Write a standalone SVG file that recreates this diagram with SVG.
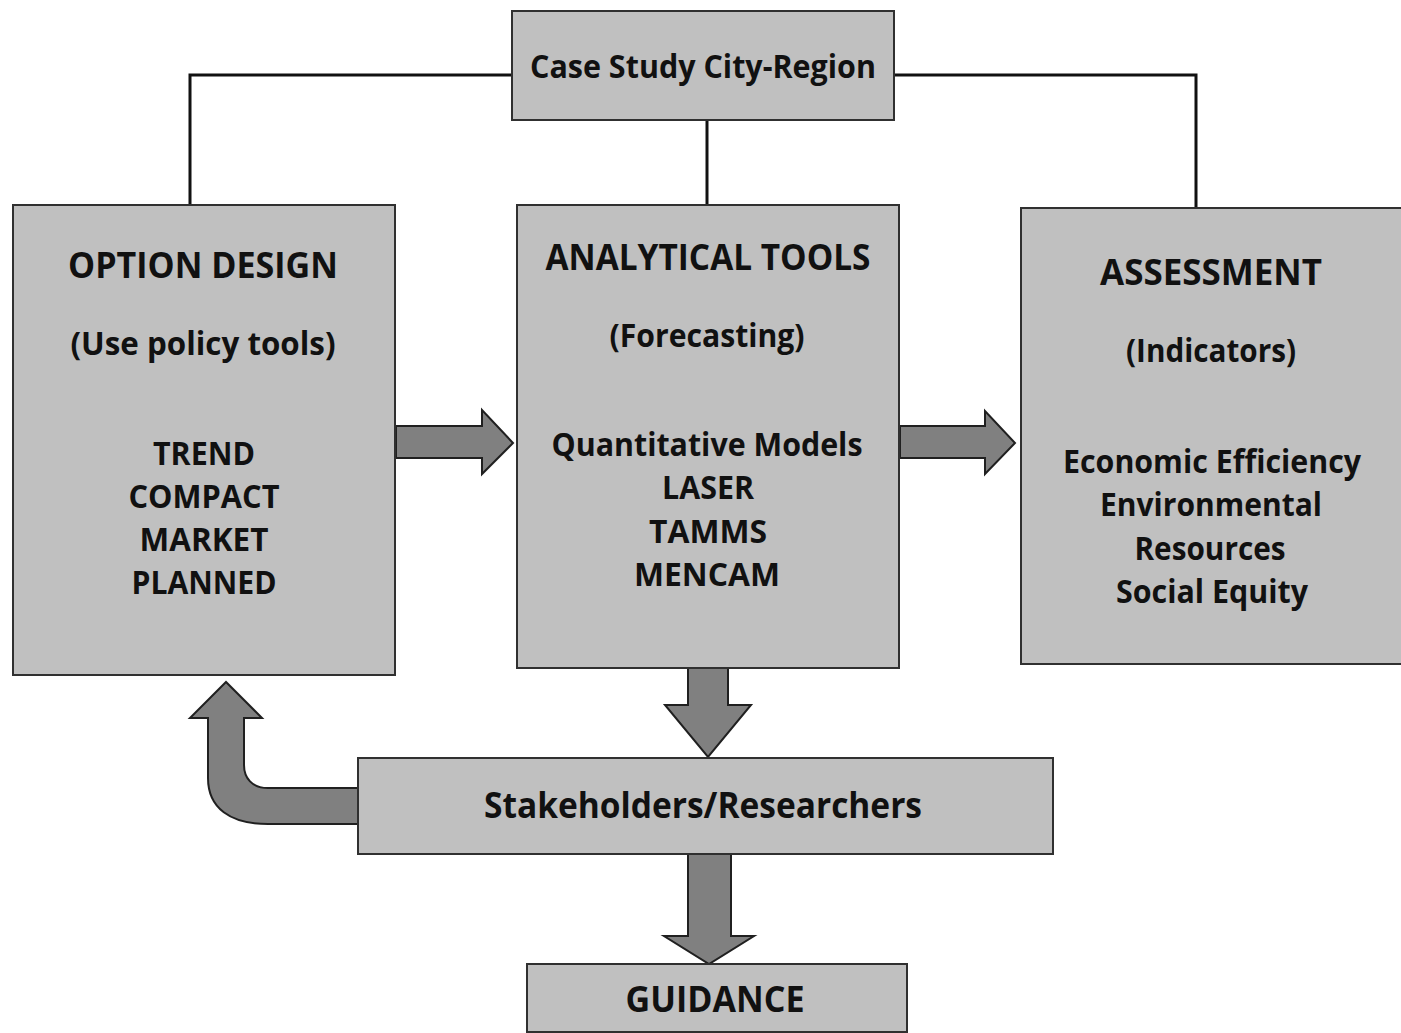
<svg xmlns="http://www.w3.org/2000/svg" width="1401" height="1033" viewBox="0 0 1401 1033">
<style>
.box{fill:#c0c0c0;stroke:#303030;stroke-width:2}
.arr{fill:#808080;stroke:#202020;stroke-width:2;stroke-linejoin:miter}
.ln{fill:none;stroke:#111;stroke-width:3}
text{font-family:"Open Sans","Liberation Sans",sans-serif;font-weight:bold;fill:#111;text-anchor:middle}
.h{font-size:35px}
.t{font-size:33px}
</style>
<rect width="1401" height="1033" fill="#fff"/>
<g id="connectors">
<polyline class="ln" points="512,75 190,75 190,205"/>
<polyline class="ln" points="894,75 1196,75 1196,208"/>
<line class="ln" x1="707" y1="120" x2="707" y2="205"/>
<polygon class="arr" points="396,426 482,426 482,410 513,443 482,474 482,458 396,458"/>
<polygon class="arr" points="900,426 985,426 985,411 1015,443 985,474 985,458 900,458"/>
<polygon class="arr" points="688,668 728,668 728,705 751,705 708,757 665,705 688,705"/>
<polygon class="arr" points="688,854 731,854 731,936 754,936 709,964 664,936 688,936"/>
<path class="arr" d="M358,788 L268,788 C252,788 244,778 244,765 L244,718 L262,718 L226,682 L190,718 L208,718 L208,778 C208,808 230,824 268,824 L358,824 Z"/>
</g>
<g id="case-study">
<rect class="box" x="512" y="11" width="382" height="109"/>
<text class="t" x="703" y="78" textLength="346" lengthAdjust="spacingAndGlyphs">Case Study City-Region</text>
</g>
<g id="option-design">
<rect class="box" x="13" y="205" width="382" height="470"/>
<text class="h" x="203" y="278" textLength="270" lengthAdjust="spacingAndGlyphs">OPTION DESIGN</text>
<text class="t" x="203" y="355" textLength="265" lengthAdjust="spacingAndGlyphs">(Use policy tools)</text>
<text class="t" x="204" y="465" textLength="102" lengthAdjust="spacingAndGlyphs">TREND</text>
<text class="t" x="204" y="508" textLength="151" lengthAdjust="spacingAndGlyphs">COMPACT</text>
<text class="t" x="204" y="551" textLength="129" lengthAdjust="spacingAndGlyphs">MARKET</text>
<text class="t" x="204" y="594" textLength="145" lengthAdjust="spacingAndGlyphs">PLANNED</text>
</g>
<g id="analytical-tools">
<rect class="box" x="517" y="205" width="382" height="463"/>
<text class="h" x="708" y="270" textLength="325" lengthAdjust="spacingAndGlyphs">ANALYTICAL TOOLS</text>
<text class="t" x="707" y="347" textLength="195" lengthAdjust="spacingAndGlyphs">(Forecasting)</text>
<text class="t" x="707" y="456" textLength="311" lengthAdjust="spacingAndGlyphs">Quantitative Models</text>
<text class="t" x="708" y="499" textLength="92" lengthAdjust="spacingAndGlyphs">LASER</text>
<text class="t" x="708" y="543" textLength="118" lengthAdjust="spacingAndGlyphs">TAMMS</text>
<text class="t" x="707" y="586" textLength="146" lengthAdjust="spacingAndGlyphs">MENCAM</text>
</g>
<g id="assessment">
<rect class="box" x="1021" y="208" width="381" height="456"/>
<text class="h" x="1211" y="285" textLength="222" lengthAdjust="spacingAndGlyphs">ASSESSMENT</text>
<text class="t" x="1211" y="362" textLength="170" lengthAdjust="spacingAndGlyphs">(Indicators)</text>
<text class="t" x="1212" y="473" textLength="298" lengthAdjust="spacingAndGlyphs">Economic Efficiency</text>
<text class="t" x="1211" y="516" textLength="222" lengthAdjust="spacingAndGlyphs">Environmental</text>
<text class="t" x="1210" y="560" textLength="151" lengthAdjust="spacingAndGlyphs">Resources</text>
<text class="t" x="1212" y="603" textLength="192" lengthAdjust="spacingAndGlyphs">Social Equity</text>
</g>
<g id="stakeholders">
<rect class="box" x="358" y="758" width="695" height="96"/>
<text class="h" x="703" y="818" textLength="438" lengthAdjust="spacingAndGlyphs">Stakeholders/Researchers</text>
</g>
<g id="guidance">
<rect class="box" x="527" y="964" width="380" height="68"/>
<text class="h" x="715" y="1012" textLength="179" lengthAdjust="spacingAndGlyphs">GUIDANCE</text>
</g>
</svg>
